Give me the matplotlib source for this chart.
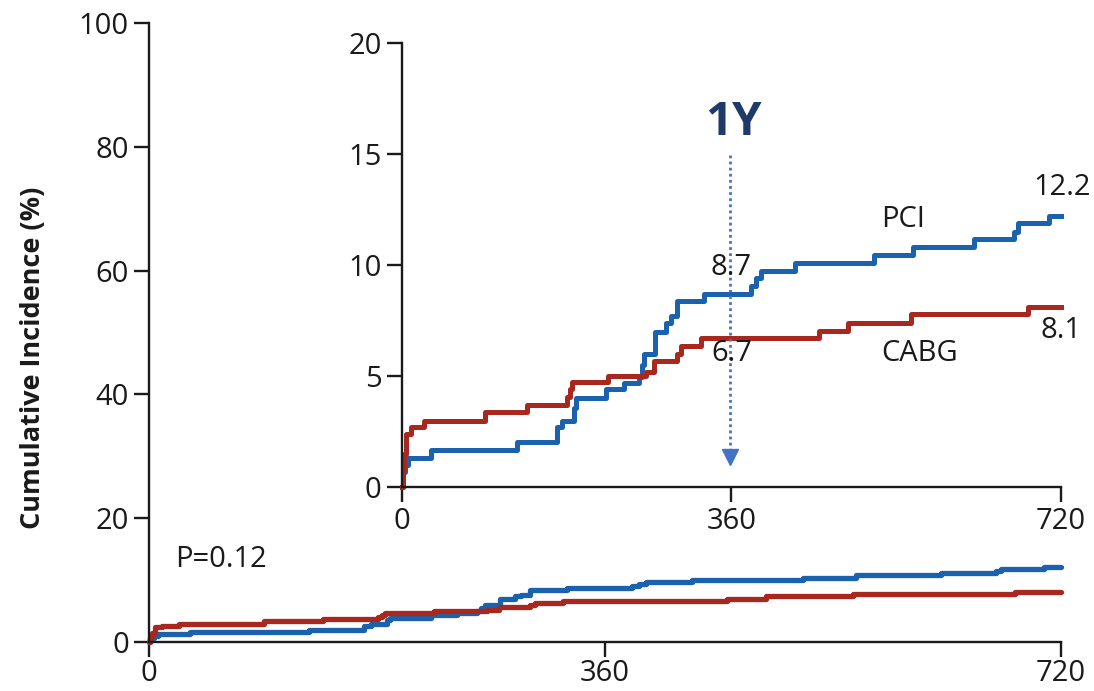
import matplotlib
matplotlib.use('Agg')
import matplotlib.pyplot as plt

# Cumulative incidence (%), days since randomisation.
pci_days = [0, 1, 4, 7, 32, 126, 170, 175, 188, 190, 223, 243, 259, 262, 265,
            277, 289, 294, 301, 330, 381, 387, 392, 429, 516, 558, 625, 669,
            673, 707, 720]
pci_inc = [0, 0.7, 1.0, 1.3, 1.7, 2.05, 2.7, 3.0, 3.55, 4.0, 4.4, 4.7, 4.97,
           5.5, 6.0, 7.0, 7.4, 7.7, 8.4, 8.7, 9.05, 9.4, 9.75, 10.1, 10.45,
           10.8, 11.15, 11.5, 11.9, 12.2, 12.2]

cabg_days = [0, 1, 2, 5, 10, 24, 91, 137, 181, 184, 186, 225, 267, 276, 301,
             305, 327, 456, 487, 556, 684, 720]
cabg_inc = [0, 0.8, 1.5, 2.4, 2.7, 3.0, 3.4, 3.7, 4.05, 4.4, 4.75, 5.0, 5.2,
            5.7, 6.0, 6.35, 6.7, 7.05, 7.4, 7.8, 8.1, 8.1]

main_yticks = [0, 20, 40, 60, 80, 100]
inset_yticks = [0, 5, 10, 15, 20]
xticks = [0, 360, 720]

BLUE = '#1a62ad'
RED = '#a8281f'
NAVY = '#1f3a68'
ARROW = '#4472c4'
INK = '#1a1a1a'

plt.rcParams['font.family'] = ['Open Sans', 'DejaVu Sans']
plt.rcParams['font.size'] = 21


def style_axes(ax, xpad):
    ax.spines[['top', 'right']].set_visible(False)
    for s in ('left', 'bottom'):
        ax.spines[s].set_linewidth(1.7)
        ax.spines[s].set_color(INK)
    ax.tick_params(length=10.5, width=1.7, color=INK, labelcolor=INK,
                   labelsize=21, pad=4)
    ax.tick_params(axis='x', pad=xpad)
    ax.set_facecolor('none')


fig = plt.figure(figsize=(10.94, 6.91), dpi=100)

# main panel
ax = fig.add_axes([0.1362, 0.0705, 0.8336, 0.8966])
ax.plot(pci_days, pci_inc, drawstyle='steps-post', color=BLUE, lw=3.8,
        solid_capstyle='round', clip_on=False)
ax.plot(cabg_days, cabg_inc, drawstyle='steps-post', color=RED, lw=3.8,
        solid_capstyle='round', clip_on=False)
ax.set_xlim(0, 720)
ax.set_ylim(0, 100)
ax.set_xticks(xticks)
ax.set_yticks(main_yticks)
style_axes(ax, 1.5)
ax.text(20.5, 13.3, 'P=0.12', ha='left', va='center', fontsize=21, color=INK)

fig.text(0.030, 0.482, 'Cumulative Incidence (%)', rotation=90, ha='center',
         va='center', fontsize=19.5, fontweight='bold', color=INK)

# inset, zoomed to 0-20 %
ins = fig.add_axes([0.3672, 0.2948, 0.6027, 0.6434])
ins.plot(pci_days, pci_inc, drawstyle='steps-post', color=BLUE, lw=3.6,
         clip_on=False)
ins.plot(cabg_days, cabg_inc, drawstyle='steps-post', color=RED, lw=3.6,
         clip_on=False)
ins.set_xlim(0, 720)
ins.set_ylim(0, 20)
ins.set_xticks(xticks)
ins.set_yticks(inset_yticks)
style_axes(ins, 4)

ins.text(360, 9.87, '8.7', ha='center', va='center', color=INK)
ins.text(360, 6.04, '6.7', ha='center', va='center', color=INK)
ins.text(547, 12.03, 'PCI', ha='center', va='center', color=INK)
ins.text(566, 6.0, 'CABG', ha='center', va='center', color=INK)
ins.text(721, 13.5, '12.2', ha='center', va='center', color=INK)
ins.text(720, 7.04, '8.1', ha='center', va='center', color=INK)

# 1-year marker
ins.text(362, 16.4, '1Y', ha='center', va='center', fontsize=34,
         fontweight='bold', color=NAVY)
ins.plot([358, 358], [14.95, 1.4], ls=(0, (1, 1.2)), lw=2, color=ARROW)
ins.plot([358], [1.35], marker='v', markersize=11, color=ARROW, ls='none')

fig.savefig('out.png', dpi=100)
